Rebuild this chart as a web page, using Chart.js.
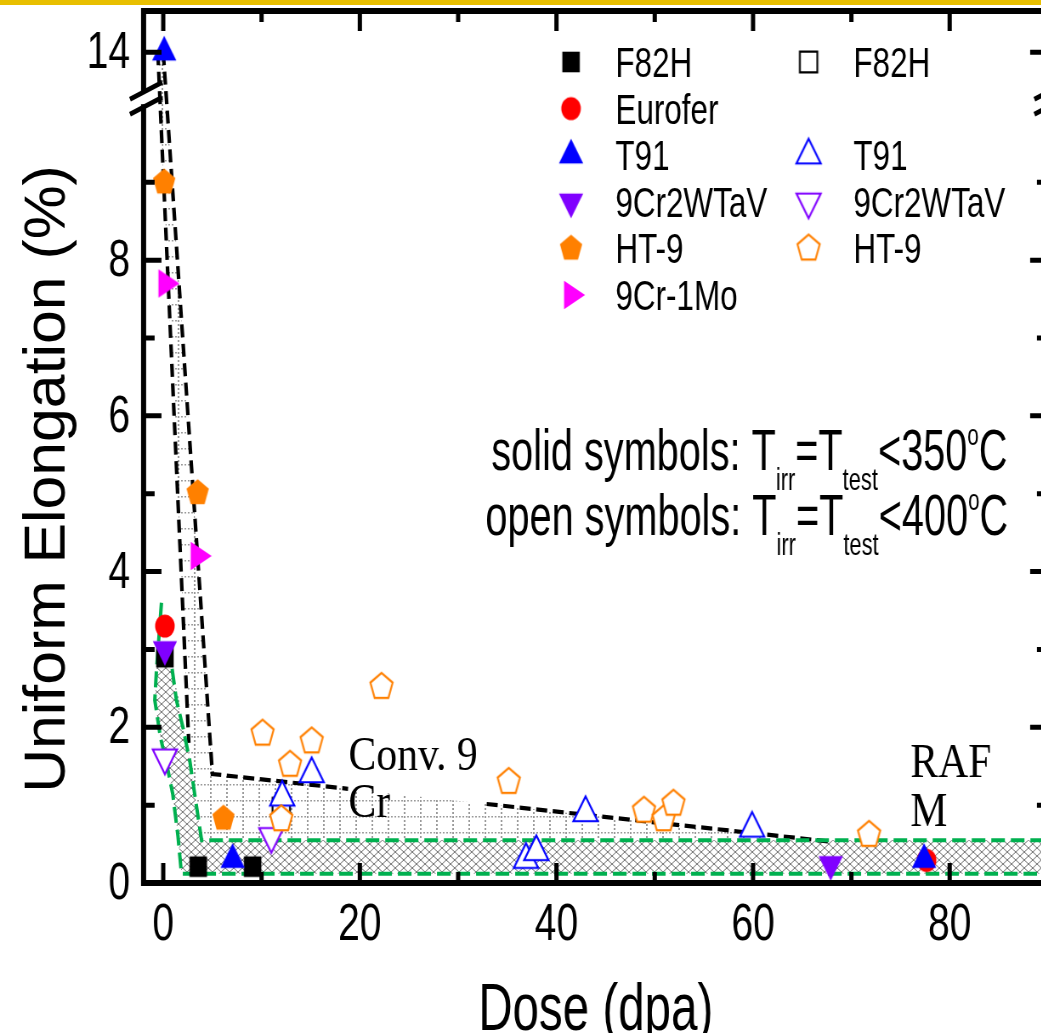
<!DOCTYPE html>
<html><head><meta charset="utf-8">
<script src="https://cdn.jsdelivr.net/npm/chart.js@4.4.1/dist/chart.umd.min.js"></script>
<style>
html,body{margin:0;padding:0;background:#fff;overflow:hidden;width:1041px;height:1033px;}
#wrap{position:absolute;left:0;top:0;width:1250px;height:1033px;transform:scaleX(0.85);transform-origin:0 0;}
canvas{display:block;}
</style></head><body>
<div id="wrap"><canvas id="c" width="1250" height="1033"></canvas></div>
<script>
// ---------------- data (dose in dpa, uniform elongation in %) ----------------
const doseF82H = [0.17, 3.56, 9.09];
const ueF82H = [2.90, 0.21, 0.21];
const doseEurofer = [0.17, 77.65];
const ueEurofer = [3.30, 0.29];
const doseT91 = [0.10, 7.06, 77.4];
const ueT91 = [14.0, 0.30, 0.30];
const dose9Cr2WTaV = [0.17, 67.9];
const ue9Cr2WTaV = [3.00, 0.24];
const doseHT9 = [0.10, 3.50, 6.13];
const ueHT9 = [9.00, 5.01, 0.83];
const dose9Cr1Mo = [0.22, 3.50];
const ue9Cr1Mo = [7.70, 4.20];

const doseF82HOpen = [12.0];
const ueF82HOpen = [0.96];
const doseT91Open = [12.1, 15.1, 36.9, 37.95, 42.96, 59.9];
const ueT91Open = [1.10, 1.40, 0.30, 0.40, 0.90, 0.70];
const dose9Cr2WTaVOpen = [0.17, 11.0];
const ue9Cr2WTaVOpen = [1.61, 0.60];
const doseHT9Open = [10.1, 12.0, 12.9, 15.1, 22.2, 35.15, 48.9, 50.9, 51.9, 71.8];
const ueHT9Open = [1.92, 0.82, 1.52, 1.82, 2.52, 1.30, 0.93, 0.82, 1.02, 0.62];

// band boundaries (dose, UE)
const rafmOuterX = [-0.18, -0.69, -0.86, -0.30, 0.40, 0.97, 1.50, 1.85, 90];
const rafmOuterY = [3.60, 2.73, 2.35, 1.88, 1.50, 1.14, 0.60, 0.12, 0.12];
const rafmInnerX = [0.90, 1.34, 2.00, 2.70, 3.20, 3.90, 90];
const rafmInnerY = [2.75, 2.35, 2.00, 1.57, 1.14, 0.55, 0.55];
const conv9LeftX = [-0.55, 2.60];
const conv9LeftY = [14.0, 1.80];
const conv9RightX = [0.00, 5.00, 18.8];
const conv9RightY = [14.0, 1.40, 1.21];
const conv9TailX = [32.9, 68.0];
const conv9TailY = [1.015, 0.53];

// axes
const xMajorTicks = [0, 20, 40, 60, 80];
const xMinorTicks = [10, 30, 50, 70, 90];
const yMajorTicks = [0, 2, 4, 6, 8, 14];
const yMinorTicks = [1, 3, 5, 7, 9];
const xTickLabels = ['0', '20', '40', '60', '80'];
const yTickLabels = ['0', '2', '4', '6', '8', '14'];
const yBreakValue = 10.08;   // where the axis break is drawn (plot units)
const breakShift = 3.33;     // values above the break are shifted down

const legendSolid = ['F82H', 'Eurofer', 'T91', '9Cr2WTaV', 'HT-9', '9Cr-1Mo'];
const legendOpen = ['F82H', '', 'T91', '9Cr2WTaV', 'HT-9', ''];

// ---------------- helpers ----------------
const yPlot = v => (v > 10.5 ? v - breakShift : v);
const pts = (xs, ys) => xs.map((x, i) => ({x: x, y: yPlot(ys[i])}));

const GREEN = '#00b04f';
const COLORS = {black:'#000000', red:'#ff0000', blue:'#0000ff', violet:'#8000ff', orange:'#ff8000', magenta:'#ff00ff'};

function makeMarker(shape, fill, stroke, lw) {
  const size = 40;
  const c = document.createElement('canvas');
  c.width = size; c.height = size;
  const g = c.getContext('2d');
  g.translate(size / 2, size / 2);
  g.beginPath();
  const r = 16.5, s3 = Math.sqrt(3) / 2;
  if (shape === 'square') { g.rect(-10.3, -10.3, 20.6, 20.6); }
  else if (shape === 'circle') { g.arc(0, 0, 11.5, 0, Math.PI * 2); }
  else if (shape === 'up') { g.moveTo(0, -r); g.lineTo(r * s3, r / 2); g.lineTo(-r * s3, r / 2); g.closePath(); }
  else if (shape === 'down') { g.moveTo(0, r); g.lineTo(r * s3, -r / 2); g.lineTo(-r * s3, -r / 2); g.closePath(); }
  else if (shape === 'right') { g.moveTo(r, 0); g.lineTo(-r / 2, r * s3); g.lineTo(-r / 2, -r * s3); g.closePath(); }
  else if (shape === 'pent') {
    const R = 13.8;
    for (let k = 0; k < 5; k++) {
      const a = -Math.PI / 2 + k * 2 * Math.PI / 5;
      if (k === 0) g.moveTo(R * Math.cos(a), R * Math.sin(a)); else g.lineTo(R * Math.cos(a), R * Math.sin(a));
    }
    g.closePath();
  }
  g.fillStyle = fill; g.fill();
  if (stroke) { g.lineWidth = lw; g.strokeStyle = stroke; g.lineJoin = 'miter'; g.stroke(); }
  return c;
}

const M = {
  sqS: makeMarker('square', COLORS.black),
  ciS: makeMarker('circle', COLORS.red),
  upS: makeMarker('up', COLORS.blue),
  dnS: makeMarker('down', COLORS.violet),
  peS: makeMarker('pent', COLORS.orange),
  rtS: makeMarker('right', COLORS.magenta),
  sqO: makeMarker('square', '#ffffff', COLORS.black, 2.2),
  upO: makeMarker('up', '#ffffff', COLORS.blue, 2.2),
  dnO: makeMarker('down', '#ffffff', COLORS.violet, 2.2),
  peO: makeMarker('pent', '#ffffff', COLORS.orange, 2.2)
};

function crossPattern(ctx) {
  const c = document.createElement('canvas');
  c.width = 10; c.height = 8;
  const g = c.getContext('2d');
  g.strokeStyle = '#6e6e6e'; g.lineWidth = 1;
  g.beginPath();
  for (let k = -1; k <= 1; k++) {
    g.moveTo(k * 10, 0); g.lineTo(k * 10 + 10, 8);
    g.moveTo(k * 10 + 10, 0); g.lineTo(k * 10, 8);
  }
  g.stroke();
  return ctx.createPattern(c, 'repeat');
}
function dotPattern(ctx) {
  const c = document.createElement('canvas');
  c.width = 19; c.height = 16;
  const g = c.getContext('2d');
  g.fillStyle = '#9a9a9a';
  for (let x = 0; x < 18; x += 4) g.fillRect(x, 0, 2, 1.5);
  for (let y = 0; y < 16; y += 4) g.fillRect(0, y, 2, 2);
  return ctx.createPattern(c, 'repeat');
}

function lineDS(xs, ys, color, dash, w) {
  return {type: 'line', data: pts(xs, ys), borderColor: color, borderWidth: w, borderDash: dash,
    pointRadius: 0, pointHitRadius: 0, fill: false, tension: 0, order: 30, borderCapStyle: 'butt'};
}
function markDS(label, xs, ys, style, order) {
  return {type: 'scatter', label: label, data: pts(xs, ys), pointStyle: style, pointRadius: 10,
    pointHoverRadius: 10, order: order};
}

// text helper: narrowed text
function txt(ctx, s, x, y, font, sx, align) {
  ctx.save();
  ctx.font = font;
  ctx.textAlign = align || 'left';
  ctx.textBaseline = 'alphabetic';
  ctx.translate(x, y);
  ctx.scale(sx, 1);
  ctx.fillText(s, 0, 0);
  ctx.restore();
}
function measure(ctx, s, font, sx) { ctx.save(); ctx.font = font; const w = ctx.measureText(s).width * sx; ctx.restore(); return w; }

const SANS = '"Liberation Sans", Arial, sans-serif';
const SERIF = '"Liberation Serif", "Times New Roman", serif';

const decor = {
  id: 'decor',
  beforeDatasetsDraw(chart) {
    const ctx = chart.ctx, xs = chart.scales.x, ys = chart.scales.y, ca = chart.chartArea;
    const P = (x, y) => [xs.getPixelForValue(x), ys.getPixelForValue(yPlot(y))];
    ctx.save();
    ctx.beginPath(); ctx.rect(ca.left, ca.top, ca.right - ca.left, ca.bottom - ca.top); ctx.clip();
    // Conv. 9Cr region (dotted grid)
    const convPoly = [].concat(
      [P(conv9LeftX[0], conv9LeftY[0])],
      [P(conv9RightX[0], conv9RightY[0]), P(conv9RightX[1], conv9RightY[1]), P(conv9TailX[1], conv9TailY[1])],
      rafmInnerX.slice(0, 6).reverse().map((x, i) => P(x, rafmInnerY[5 - i])),
      [P(conv9LeftX[1], conv9LeftY[1])]
    );
    ctx.beginPath();
    convPoly.forEach((p, i) => i ? ctx.lineTo(p[0], p[1]) : ctx.moveTo(p[0], p[1]));
    ctx.closePath();
    ctx.fillStyle = dotPattern(ctx); ctx.fill();
    // RAFM band (crosshatch)
    const poly = [];
    rafmOuterX.forEach((x, i) => { if (i > 0) poly.push(P(x, rafmOuterY[i])); });
    poly[0] = P(-0.62, 2.85);
    poly.push(P(90, 0.55));
    for (let i = rafmInnerX.length - 2; i >= 0; i--) poly.push(P(rafmInnerX[i], rafmInnerY[i]));
    ctx.beginPath();
    poly.forEach((p, i) => i ? ctx.lineTo(p[0], p[1]) : ctx.moveTo(p[0], p[1]));
    ctx.closePath();
    ctx.fillStyle = '#ffffff'; ctx.fill();
    ctx.fillStyle = crossPattern(ctx); ctx.fill();
    ctx.restore();
  },
  afterDatasetsDraw(chart) {
    const ctx = chart.ctx, xs = chart.scales.x, ys = chart.scales.y, ca = chart.chartArea;
    const L = ca.left, R = ca.right, T = ca.top, B = ca.bottom;
    ctx.save();
    // yellow strip at very top
    ctx.fillStyle = '#e8bf00';
    ctx.fillRect(0, 0, chart.width, 5);
    // frame
    ctx.strokeStyle = '#000'; ctx.lineWidth = 6; ctx.lineJoin = 'miter';
    ctx.strokeRect(L, T, R - L, B - T);
    // ticks
    ctx.lineWidth = 5; ctx.lineCap = 'butt';
    ctx.beginPath();
    xMajorTicks.forEach(v => { const p = xs.getPixelForValue(v); ctx.moveTo(p, B); ctx.lineTo(p, B - 20); ctx.moveTo(p, T); ctx.lineTo(p, T + 20); });
    xMinorTicks.forEach(v => { const p = xs.getPixelForValue(v); ctx.moveTo(p, B); ctx.lineTo(p, B - 11); ctx.moveTo(p, T); ctx.lineTo(p, T + 11); });
    yMajorTicks.forEach(v => { const p = ys.getPixelForValue(yPlot(v)); ctx.moveTo(L, p); ctx.lineTo(L + 21, p); ctx.moveTo(R, p); ctx.lineTo(R - 21, p); });
    yMinorTicks.forEach(v => { const p = ys.getPixelForValue(yPlot(v)); ctx.moveTo(L, p); ctx.lineTo(L + 13, p); ctx.moveTo(R, p); ctx.lineTo(R - 13, p); });
    ctx.stroke();
    // axis breaks
    const yb = ys.getPixelForValue(yBreakValue);
    [L, R].forEach(ax => {
      ctx.fillStyle = '#fff';
      ctx.fillRect(ax - 4, yb - 6, 8, 12);
      ctx.lineWidth = 5; ctx.strokeStyle = '#000';
      ctx.beginPath();
      ctx.moveTo(ax - 16, yb + 1); ctx.lineTo(ax + 22, yb - 16);
      ctx.moveTo(ax - 16, yb + 16); ctx.lineTo(ax + 22, yb - 1);
      ctx.stroke();
    });
    // tick labels
    ctx.fillStyle = '#000';
    const tickFont = '51px ' + SANS;
    xMajorTicks.forEach((v, i) => txt(ctx, xTickLabels[i], xs.getPixelForValue(v), 940, tickFont, 0.9, 'center'));
    yMajorTicks.forEach((v, i) => txt(ctx, yTickLabels[i], 153, ys.getPixelForValue(yPlot(v)) + 16, tickFont, 0.9, 'right'));
    // axis titles
    txt(ctx, 'Dose (dpa)', (L + R) / 2, 1030, '67px ' + SANS, 0.834, 'center');
    ctx.save();
    ctx.translate(76, 479); ctx.rotate(-Math.PI / 2);
    txt(ctx, 'Uniform Elongation (%)', 0, 0, '69px ' + SANS, 0.88, 'center');
    ctx.restore();
    // legend
    const solidM = [M.sqS, M.ciS, M.upS, M.dnS, M.peS, M.rtS];
    const openM = [M.sqO, null, M.upO, M.dnO, M.peO, null];
    const legFont = '42px ' + SANS;
    legendSolid.forEach((lab, i) => {
      const yc = 62 + 46.6 * i;
      const m = solidM[i];
      ctx.drawImage(m, 671.8 - m.width / 2, yc - m.height / 2);
      txt(ctx, lab, 724, yc + 15, legFont, 0.88);
      if (openM[i]) {
        const o = openM[i];
        ctx.drawImage(o, 951.3 - o.width / 2, yc - o.height / 2);
        txt(ctx, legendOpen[i], 1004, yc + 15, legFont, 0.88);
      }
    });
    // annotation lines
    const big = '58px ' + SANS, sub = '32px ' + SANS, sup = '30px ' + SANS, k = 0.805;
    function annot(x, y, lead, temp) {
      const parts = [[lead, big, 0], ['T', big, 0], ['irr', sub, 20], ['=', big, 0], ['T', big, 0], ['test', sub, 20], ['<' + temp, big, 0], ['o', sup, -25], ['C', big, 0]];
      let cx = x;
      parts.forEach(p => { txt(ctx, p[0], cx, y + p[2], p[1], k); cx += measure(ctx, p[0], p[1], k); });
    }
    annot(578, 470, 'solid symbols: ', '350');
    annot(571, 535, 'open symbols: ', '400');
    // region labels
    const serif = '49px ' + SERIF;
    txt(ctx, 'Conv. 9', 410, 770, serif, 1.0);
    txt(ctx, 'Cr', 410, 817, serif, 1.0);
    txt(ctx, 'RAF', 1071, 777, serif, 1.0);
    txt(ctx, 'M', 1071, 826, serif, 1.0);
    ctx.restore();
  }
};

const datasets = [
  lineDS(rafmOuterX, rafmOuterY, GREEN, [16, 7], 4),
  lineDS(rafmInnerX, rafmInnerY, GREEN, [16, 7], 4),
  lineDS(conv9LeftX, conv9LeftY, '#000', [13, 6.5], 4.2),
  lineDS(conv9RightX, conv9RightY, '#000', [13, 6.5], 4.2),
  lineDS(conv9TailX, conv9TailY, '#000', [13, 6.5], 4.2),
  markDS('F82H', doseF82H, ueF82H, M.sqS, 12),
  markDS('Eurofer', doseEurofer, ueEurofer, M.ciS, 11),
  markDS('T91', doseT91, ueT91, M.upS, 10),
  markDS('9Cr2WTaV', dose9Cr2WTaV, ue9Cr2WTaV, M.dnS, 9),
  markDS('HT-9', doseHT9, ueHT9, M.peS, 8),
  markDS('9Cr-1Mo', dose9Cr1Mo, ue9Cr1Mo, M.rtS, 7),
  markDS('F82H (open)', doseF82HOpen, ueF82HOpen, M.sqO, 6),
  markDS('T91 (open)', doseT91Open, ueT91Open, M.upO, 5),
  markDS('9Cr2WTaV (open)', dose9Cr2WTaVOpen, ue9Cr2WTaVOpen, M.dnO, 4),
  markDS('HT-9 (open)', doseHT9Open, ueHT9Open, M.peO, 3)
];

new Chart(document.getElementById('c'), {
  type: 'scatter',
  data: {datasets: datasets},
  options: {
    responsive: false, animation: false, devicePixelRatio: 1, events: [],
    layout: {padding: {left: 0, right: 17.1, top: 8.6, bottom: 0}},
    plugins: {legend: {display: false}, tooltip: {enabled: false}},
    scales: {
      x: {type: 'linear', min: -2, max: 90,
          grid: {display: false, drawTicks: false}, border: {display: false},
          ticks: {display: false},
          afterFit: s => { s.height = 150; }},
      y: {type: 'linear', min: 0, max: 11.2,
          grid: {display: false, drawTicks: false}, border: {display: false},
          ticks: {display: false},
          afterFit: s => { s.width = 168.9; }}
    }
  },
  plugins: [decor]
});
</script>
</body></html>
